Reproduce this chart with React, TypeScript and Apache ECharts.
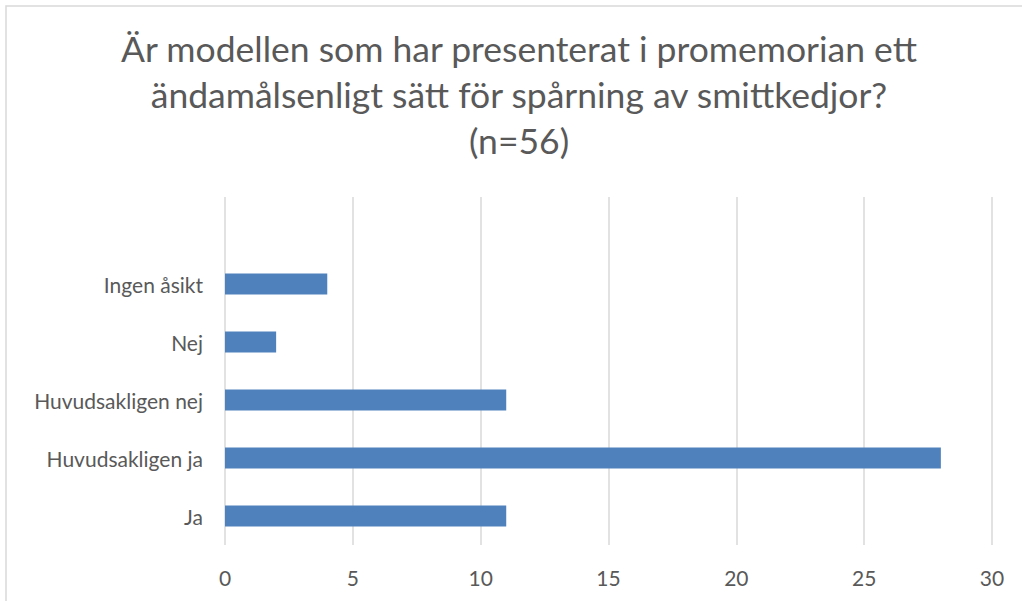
import React, { useEffect, useRef } from "react";
import * as echarts from "echarts";

const categories = ["Ja", "Huvudsakligen ja", "Huvudsakligen nej", "Nej", "Ingen åsikt", ""];
const values: (number | null)[] = [11, 28, 11, 2, 4, null];
const titleLines = [
  "Är modellen som har presenterat i promemorian ett",
  "ändamålsenligt sätt för spårning av smittkedjor?",
  "(n=56)",
];
const xMin = 0;
const xMax = 30;
const xInterval = 5;

const FONT = "Lato, 'Open Sans', sans-serif";

export default function App() {
  const ref = useRef<HTMLDivElement>(null);
  useEffect(() => {
    if (!ref.current) return;
    const chart = echarts.init(ref.current, undefined, { renderer: "svg" });
    chart.setOption({
      animation: false,
      backgroundColor: "#ffffff",
      graphic: [
        {
          type: "rect",
          shape: { x: 6, y: 6, width: 1040, height: 620 },
          style: { fill: "none", stroke: "#d9d9d9", lineWidth: 1.5 },
          silent: true,
        },
        {
          type: "text",
          x: 519,
          y: 25,
          style: {
            text: titleLines.join("\n"),
            fill: "#595959",
            font: `35.5px ${FONT}`,
            lineHeight: 46,
            align: "center",
            verticalAlign: "top",
          },
        },
      ],
      grid: { left: 225, right: 30, top: 197, bottom: 56, containLabel: false },
      xAxis: {
        type: "value",
        min: xMin,
        max: xMax,
        interval: xInterval,
        axisLine: { show: false },
        axisTick: { show: false },
        splitLine: { show: true, lineStyle: { color: "#d9d9d9", width: 1.5 } },
        axisLabel: { color: "#595959", fontSize: 21, fontFamily: FONT, margin: 22 },
      },
      yAxis: {
        type: "category",
        data: categories,
        axisLine: { show: false },
        axisTick: { show: false },
        splitLine: { show: false },
        axisLabel: { color: "#595959", fontSize: 21, fontFamily: FONT, margin: 22 },
      },
      series: [
        {
          type: "bar",
          data: values,
          barWidth: 21,
          itemStyle: { color: "#4f81bd" },
        },
      ],
    });
    return () => chart.dispose();
  }, []);
  return (
    <div
      ref={ref}
      style={{ position: "fixed", left: 0, top: 0, width: 1022, height: 601 }}
    />
  );
}
